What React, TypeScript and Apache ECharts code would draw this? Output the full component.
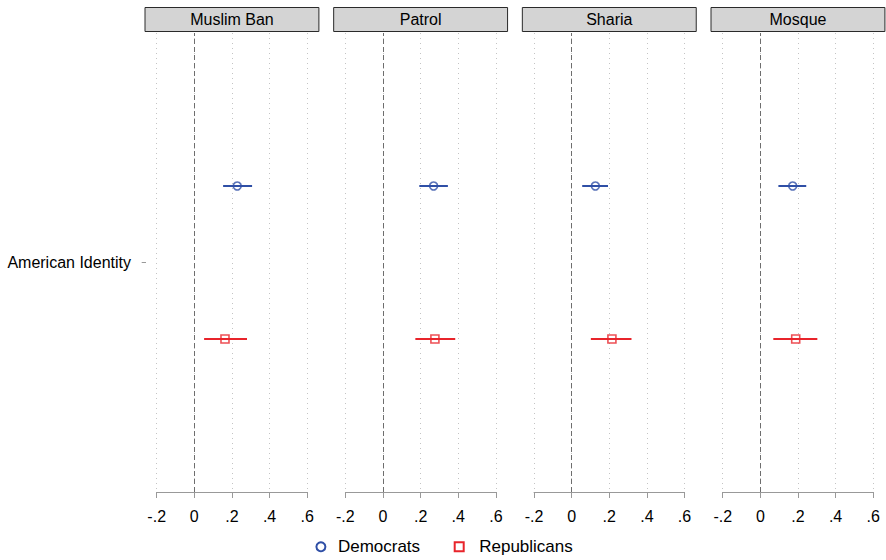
import React, { useEffect, useRef } from "react";
import * as echarts from "echarts";

const panels = ["Muslim Ban", "Patrol", "Sharia", "Mosque"];
const rowLabel = "American Identity";
const demEst = [0.228, 0.269, 0.126, 0.172];
const demLo = [0.153, 0.193, 0.056, 0.096];
const demHi = [0.307, 0.345, 0.193, 0.244];
const repEst = [0.163, 0.276, 0.214, 0.188];
const repLo = [0.052, 0.172, 0.102, 0.069];
const repHi = [0.28, 0.384, 0.318, 0.303];
const xTicks = [-0.2, 0, 0.2, 0.4, 0.6];
const xTickLabels = ["-.2", "0", ".2", ".4", ".6"];
const demRow = 4;
const repRow = 2;
const labelRow = 3;

const BLUE = "#2f4fa6";
const RED = "#e8242b";
const FONT = "Liberation Sans, Arial, Helvetica, sans-serif";

export default function App() {
  const ref = useRef<HTMLDivElement>(null);
  useEffect(() => {
    document.body.style.margin = "0";
    const chart = echarts.init(ref.current!, null, { renderer: "svg" });
    const left0 = 156.7;
    const step = 188.67;
    const w = 150.5;
    const top = 33;
    const h = 459;
    const grids: any[] = [];
    const xAxes: any[] = [];
    const yAxes: any[] = [];
    const series: any[] = [];
    const graphics: any[] = [];
    const ciRender = (color: string) => (params: any, api: any) => {
      const a = api.coord([api.value(0), api.value(2)]);
      const b = api.coord([api.value(1), api.value(2)]);
      return {
        type: "line",
        shape: { x1: a[0], y1: a[1], x2: b[0], y2: b[1] },
        style: { stroke: color, lineWidth: 2 },
      };
    };
    panels.forEach((p, i) => {
      const left = left0 + step * i;
      grids.push({ left, top, width: w, height: h });
      xAxes.push({
        type: "value",
        gridIndex: i,
        min: -0.2,
        max: 0.6,
        interval: 0.2,
        axisLine: { show: true, onZero: false, lineStyle: { color: "#999", width: 1 } },
        axisTick: { show: true, length: 6, lineStyle: { color: "#999" } },
        axisLabel: {
          color: "#000",
          fontSize: 16,
          fontFamily: FONT,
          margin: 16,
          formatter: (v: number) => {
            const idx = xTicks.findIndex((t) => Math.abs(t - v) < 1e-6);
            return idx >= 0 ? xTickLabels[idx] : "";
          },
        },
        splitLine: {
          show: true,
          lineStyle: { color: "#c4c4c4", type: [1, 4], width: 1 },
        },
      });
      yAxes.push({
        type: "value",
        gridIndex: i,
        min: 0,
        max: 6,
        show: i === 0,
        offset: 10.7,
        position: "left",
        axisLine: { show: i === 0, onZero: false, lineStyle: { color: "rgba(0,0,0,0)" } },
        axisTick: {
          show: i === 0,
          length: 4.3,
          customValues: [labelRow],
          lineStyle: { color: "#999", width: 1 },
        },
        axisLabel: {
          show: i === 0,
          customValues: [labelRow],
          formatter: () => rowLabel,
          color: "#000",
          fontSize: 16,
          fontFamily: FONT,
          margin: 15,
        },
        splitLine: { show: false },
      });
      series.push({
        type: "custom",
        name: "Democrats",
        xAxisIndex: i,
        yAxisIndex: i,
        renderItem: ciRender(BLUE),
        encode: { x: [0, 1], y: 2 },
        data: [[demLo[i], demHi[i], demRow]],
        z: 3,
        markLine: {
          silent: true,
          symbol: "none",
          label: { show: false },
          lineStyle: { color: "#6e6e6e", type: [5, 3], width: 1 },
          data: [{ xAxis: 0 }],
        },
      });
      series.push({
        type: "custom",
        name: "Republicans",
        xAxisIndex: i,
        yAxisIndex: i,
        renderItem: ciRender(RED),
        encode: { x: [0, 1], y: 2 },
        data: [[repLo[i], repHi[i], repRow]],
        z: 3,
      });
      series.push({
        type: "scatter",
        name: "Democrats",
        xAxisIndex: i,
        yAxisIndex: i,
        symbol: "circle",
        symbolSize: 8,
        itemStyle: { color: "rgba(0,0,0,0)", borderColor: BLUE, borderWidth: 1.6 },
        data: [[demEst[i], demRow]],
        z: 4,
      });
      series.push({
        type: "scatter",
        name: "Republicans",
        xAxisIndex: i,
        yAxisIndex: i,
        symbol: "rect",
        symbolSize: 8,
        itemStyle: { color: "rgba(0,0,0,0)", borderColor: RED, borderWidth: 1.6 },
        data: [[repEst[i], repRow]],
        z: 4,
      });
      graphics.push({
        type: "rect",
        shape: { x: left - 11.7, y: 7.5, width: w + 23.4, height: 24 },
        style: { fill: "#d4d4d4", stroke: "#2a2a2a", lineWidth: 1 },
      });
      graphics.push({
        type: "text",
        x: left + w / 2,
        y: 19.5,
        style: {
          text: p,
          fill: "#000",
          font: `16px ${FONT}`,
          align: "center",
          verticalAlign: "middle",
        },
      });
    });
    const legendBase = {
      top: 537.7,
      padding: 0,
      itemHeight: 9,
      symbolKeepAspect: true,
      selectedMode: false,
      textStyle: { color: "#000", fontSize: 17, fontFamily: FONT, lineHeight: 18 },
    };
    chart.setOption({
      animation: false,
      backgroundColor: "#fff",
      grid: grids,
      xAxis: xAxes,
      yAxis: yAxes,
      series,
      graphic: graphics,
      legend: [
        {
          ...legendBase,
          left: 315.4,
          itemWidth: 24,
          data: [
            {
              name: "Democrats",
              icon: "circle",
              itemStyle: { color: "rgba(0,0,0,0)", borderColor: BLUE, borderWidth: 2 },
            },
          ],
        },
        {
          ...legendBase,
          left: 453.7,
          itemWidth: 30,
          data: [
            {
              name: "Republicans",
              icon: "path://M0,0L10,0L10,10L0,10Z",
              itemStyle: { color: "rgba(0,0,0,0)", borderColor: RED, borderWidth: 2 },
            },
          ],
        },
      ],
    });
    return () => chart.dispose();
  }, []);
  return <div ref={ref} style={{ width: 886, height: 560 }} />;
}
